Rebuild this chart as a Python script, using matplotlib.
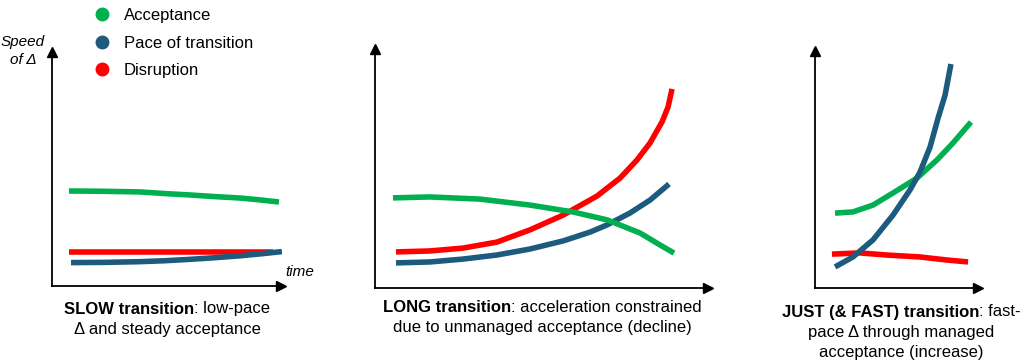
import matplotlib.pyplot as plt
from matplotlib.lines import Line2D

plt.rcParams['font.family'] = ['Liberation Sans', 'DejaVu Sans']

GREEN = '#00B050'
BLUE = '#1D5B7E'
RED = '#FF0000'

# --- data (time, speed of change), axes 0..10 ---
# SLOW transition
slow_acc_t = [0.74, 2.10, 3.84, 4.93, 6.03, 7.12, 8.21, 9.08, 9.91]
slow_acc_v = [4.06, 4.05, 4.02, 3.95, 3.89, 3.82, 3.76, 3.68, 3.59]
slow_pace_t = [0.83, 2.31, 3.84, 4.93, 6.03, 7.12, 8.21, 9.17, 10.04]
slow_pace_v = [1.00, 1.01, 1.04, 1.08, 1.14, 1.21, 1.29, 1.38, 1.47]
slow_dis_t = [0.74, 9.65]
slow_dis_v = [1.44, 1.44]

# LONG transition
long_acc_t = [0.54, 1.65, 3.15, 4.65, 5.95, 6.97, 7.96, 8.56, 8.98]
long_acc_v = [3.77, 3.81, 3.72, 3.47, 3.18, 2.85, 2.30, 1.80, 1.46]
long_pace_t = [0.63, 1.65, 2.64, 3.66, 4.65, 5.65, 6.46, 6.97, 7.66, 8.26, 8.83]
long_pace_v = [1.05, 1.09, 1.21, 1.38, 1.63, 1.97, 2.34, 2.64, 3.14, 3.68, 4.35]
long_dis_t = [0.63, 1.65, 2.64, 3.66, 4.65, 5.65, 6.67, 7.36, 7.87, 8.26,
              8.62, 8.80, 8.92]
long_dis_v = [1.51, 1.55, 1.67, 1.92, 2.43, 3.05, 3.85, 4.60, 5.36, 6.07,
              6.95, 7.57, 8.33]

# JUST (& FAST) transition
just_acc_t = [1.23, 2.33, 3.56, 4.79, 6.26, 7.48, 8.47, 9.57]
just_acc_v = [3.16, 3.21, 3.50, 4.01, 4.64, 5.40, 6.12, 7.00]
just_pace_t = [1.23, 2.33, 3.56, 4.79, 5.83, 6.44, 7.06, 7.55, 7.98, 8.34]
just_pace_v = [0.89, 1.31, 2.03, 3.08, 4.14, 4.89, 5.95, 7.17, 8.14, 9.45]
just_dis_t = [1.04, 2.76, 4.42, 6.44, 8.10, 9.39]
just_dis_v = [1.43, 1.48, 1.39, 1.31, 1.18, 1.10]

legend_labels = ['Acceptance', 'Pace of transition', 'Disruption']
captions = [
    [('SLOW transition', ': low-pace'), ('', 'Δ and steady acceptance')],
    [('LONG transition', ': acceleration constrained'),
     ('', 'due to unmanaged acceptance (decline)')],
    [('JUST (& FAST) transition', ': fast-'), ('', 'pace Δ through managed'),
     ('', 'acceptance (increase)')],
]

W, H = 1024, 363
fig = plt.figure(figsize=(W / 100, H / 100), dpi=100)


def px_axes(x0, y0, x1, y1):
    # pixel box (left, bottom, right, top), y measured from the top
    return fig.add_axes([x0 / W, 1 - y0 / H, (x1 - x0) / W, (y0 - y1) / H])


boxes = [(52, 286, 281, 52), (375, 288, 708, 49), (815, 288, 978, 51)]
panels = [
    [(slow_dis_t, slow_dis_v, RED), (slow_acc_t, slow_acc_v, GREEN),
     (slow_pace_t, slow_pace_v, BLUE)],
    [(long_dis_t, long_dis_v, RED), (long_pace_t, long_pace_v, BLUE),
     (long_acc_t, long_acc_v, GREEN)],
    [(just_dis_t, just_dis_v, RED), (just_acc_t, just_acc_v, GREEN),
     (just_pace_t, just_pace_v, BLUE)],
]

axes = []
for box, series in zip(boxes, panels):
    ax = px_axes(*box)
    for t, v, c in series:
        ax.plot(t, v, color=c, lw=4, solid_capstyle='butt',
                solid_joinstyle='round', clip_on=False)
    ax.set_xlim(0, 10)
    ax.set_ylim(0, 10)
    for s in ['top', 'right']:
        ax.spines[s].set_visible(False)
    for s in ['left', 'bottom']:
        ax.spines[s].set_linewidth(1.3)
    ax.set_xticks([])
    ax.set_yticks([])
    ax.patch.set_alpha(0)
    ax.plot(1, 0, '>k', ms=7, transform=ax.transAxes, clip_on=False)
    ax.plot(0, 1, '^k', ms=7, transform=ax.transAxes, clip_on=False)
    axes.append(ax)

# axis names on first panel
fig.text(23 / W, 1 - 51 / H, 'Speed\nof Δ', ha='center', va='center',
         fontsize=11, style='italic', linespacing=1.35)
fig.text(285 / W, 1 - 272 / H, 'time', ha='left', va='center',
         fontsize=11, style='italic')

# legend
handles = [Line2D([], [], ls='none', marker='o', ms=9, color=c)
           for c in [GREEN, BLUE, RED]]
fig.legend(handles, legend_labels, loc='upper left',
           bbox_to_anchor=(94 / W, 1 - 8 / H), frameon=False, fontsize=12,
           handlelength=1.0, handletextpad=0.8, labelspacing=0.75,
           borderpad=0, borderaxespad=0)

# captions with bold lead-in
fig.canvas.draw()
renderer = fig.canvas.get_renderer()
cap_centers = [167, 542, 901]
cap_tops = [309, 307, 312]
line_gap = 20.5
for cx, y0, lines in zip(cap_centers, cap_tops, captions):
    for i, (bold, rest) in enumerate(lines):
        y = 1 - (y0 + i * line_gap) / H
        tb = fig.text(0, y, bold, fontsize=12, fontweight='bold', va='center')
        tr = fig.text(0, y, rest, fontsize=12, va='center')
        wb = tb.get_window_extent(renderer).width if bold else 0
        wr = tr.get_window_extent(renderer).width
        x = cx - (wb + wr) / 2
        tb.set_x(x / W)
        tr.set_x((x + wb) / W)

fig.savefig('out.png', dpi=100)
